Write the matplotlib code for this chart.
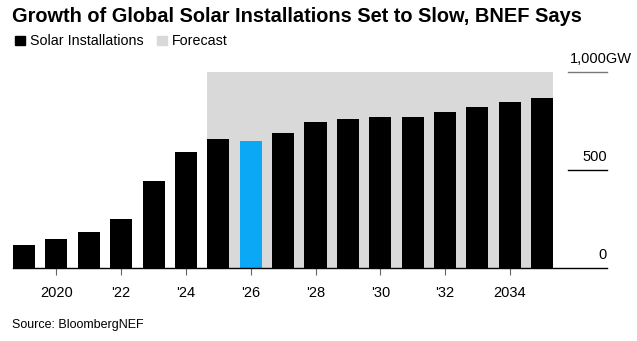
import matplotlib.pyplot as plt
import numpy as np

years = np.arange(2019, 2036)
installs = [117, 148, 182, 250, 444, 592, 657, 650, 687, 745, 760, 772, 769, 798, 821, 845, 866]
highlight_year = 2026
forecast_start = 2025
tick_years = [2020, 2022, 2024, 2026, 2028, 2030, 2032, 2034]
tick_labels = ['2020', "'22", "'24", "'26", "'28", "'30", "'32", '2034']
y_ticks = [0, 500, 1000]
y_labels = ['0', '500', '1,000GW']

plt.rcParams['font.family'] = ['Liberation Sans', 'DejaVu Sans']

fig = plt.figure(figsize=(6.37, 3.41), dpi=100)
ax = fig.add_axes([13 / 637, 73 / 341, 594 / 637, 196 / 341])

w = 0.68
ax.axvspan(forecast_start - w / 2, years[-1] + w / 2, ymin=0, ymax=1, color='#d9d9d9', lw=0, zorder=0)
colors = ['#0aa8f5' if y == highlight_year else 'black' for y in years]
ax.bar(years, installs, width=w, color=colors, zorder=2)

ax.set_xlim(2018.66, 2037.0)
ax.set_ylim(0, 1000)

for s in ['top', 'right', 'left']:
    ax.spines[s].set_visible(False)
ax.spines['bottom'].set_color('black')
ax.spines['bottom'].set_linewidth(1)

ax.set_xticks(tick_years)
ax.set_xticklabels(tick_labels, fontsize=10.5)
ax.tick_params(axis='x', length=5, color='#666666', width=0.8, pad=8)
ax.set_yticks([])

# right side gridlines + labels
for v, lab in zip(y_ticks, y_labels):
    if v > 0:
        ax.axhline(v, xmin=(2035.34 - 2018.66) / (2037.0 - 2018.66) + 0.025, xmax=1,
                   color='#777777' if v == 1000 else 'black', lw=1, clip_on=False)
    if v == 1000:
        ax.text(2035.85, v + 30, lab, ha='left', va='bottom', fontsize=10.5)
    else:
        ax.text(2037.0, v + 30, lab, ha='right', va='bottom', fontsize=10.5)

fig.text(12 / 637, 1 - 16 / 341, 'Growth of Global Solar Installations Set to Slow, BNEF Says',
         fontsize=14.4, fontweight='bold', va='center', ha='left')

# legend
fig.patches.append(plt.Rectangle((15 / 637, 1 - 45 / 341), 10 / 637, 9 / 341, color='black', transform=fig.transFigure))
fig.text(30 / 637, 1 - 41 / 341, 'Solar Installations', fontsize=10.3, va='center')
fig.patches.append(plt.Rectangle((157 / 637, 1 - 45 / 341), 10 / 637, 9 / 341, color='#d9d9d9', transform=fig.transFigure))
fig.text(172 / 637, 1 - 41 / 341, 'Forecast', fontsize=10.3, va='center')

fig.text(12 / 637, 1 - 325 / 341, 'Source: BloombergNEF', fontsize=9, va='center')

fig.savefig('out.png', dpi=100)
